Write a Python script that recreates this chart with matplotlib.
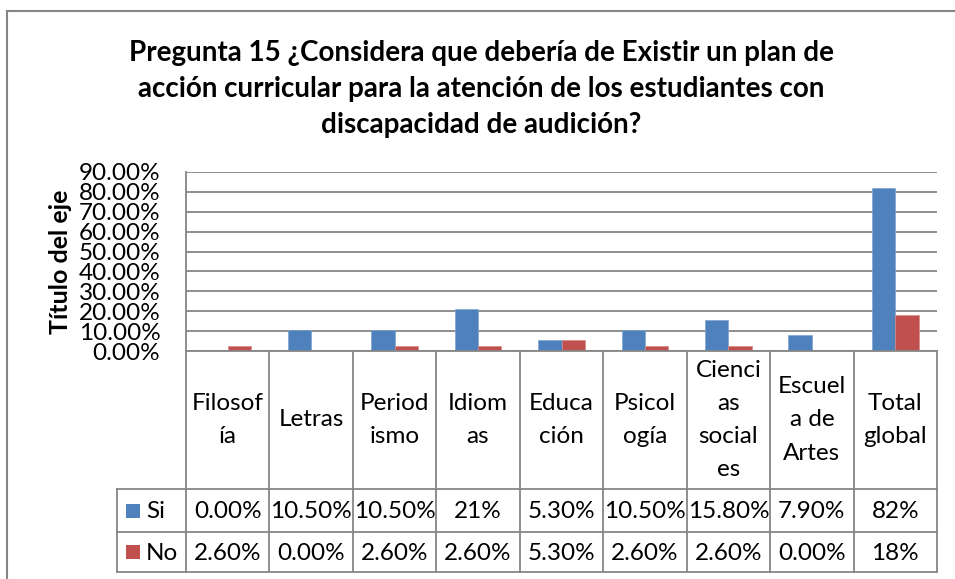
import matplotlib
matplotlib.use("Agg")
import matplotlib.pyplot as plt
from matplotlib.lines import Line2D
from matplotlib.patches import Rectangle
from matplotlib.transforms import blended_transform_factory
import numpy as np

# ---- data ----
categories = ["Filosofía", "Letras", "Periodismo", "Idiomas", "Educación",
              "Psicología", "Ciencias sociales", "Escuela de Artes", "Total global"]
category_labels = ["Filosof\nía", "Letras", "Period\nismo", "Idiom\nas", "Educa\nción",
                   "Psicol\nogía", "Cienci\nas\nsocial\nes", "Escuel\na de\nArtes", "Total\nglobal"]
series_names = ["Si", "No"]
si_values = [0.0, 10.5, 10.5, 21.0, 5.3, 10.5, 15.8, 7.9, 82.0]
no_values = [2.6, 0.0, 2.6, 2.6, 5.3, 2.6, 2.6, 0.0, 18.0]
si_labels = ["0.00%", "10.50%", "10.50%", "21%", "5.30%", "10.50%", "15.80%", "7.90%", "82%"]
no_labels = ["2.60%", "0.00%", "2.60%", "2.60%", "5.30%", "2.60%", "2.60%", "0.00%", "18%"]
y_ticks = [0, 10, 20, 30, 40, 50, 60, 70, 80, 90]

title = ("Pregunta 15 ¿Considera que debería de Existir un plan de\n"
         "acción curricular para la atención de los estudiantes con\n"
         "discapacidad de audición?")

BLUE = "#4F81BD"
RED = "#C0504D"
GRID = "#868686"
FONT = "Lato"

W, H = 955, 579
fig = plt.figure(figsize=(W / 100, H / 100), dpi=100)
fig.patch.set_facecolor("white")

def fx(px):
    return px / W

def fy(py):
    return 1 - py / H

# plot area in pixels
L, R, T, B = 186, 937, 172, 351
ax = fig.add_axes([fx(L), fy(B), fx(R - L), (B - T) / H])

x = np.arange(len(categories))
bw = 0.28
ax.bar(x - bw / 2, si_values, width=bw, color=BLUE, edgecolor="#7FA3D0", linewidth=0.5, zorder=3)
ax.bar(x + bw / 2, no_values, width=bw, color=RED, edgecolor="#D68A88", linewidth=0.5, zorder=3)

ax.set_xlim(-0.5, len(categories) - 0.5)
ax.set_ylim(0, 90)
ax.set_yticks(y_ticks)
ax.set_yticklabels([f"{v:.2f}%" for v in y_ticks], family=FONT, fontsize=17.5)
ax.set_xticks([])
ax.yaxis.grid(True, color=GRID, linewidth=1.3, zorder=0)
ax.tick_params(axis="y", length=0, pad=18.5)
for s in ["top", "right", "bottom"]:
    ax.spines[s].set_visible(False)
ax.spines["left"].set_color(GRID)
ax.spines["left"].set_linewidth(1.3)

# y-axis title
fig.text(fx(60), fy(262), "Título del eje", rotation=90, ha="center", va="center",
         family=FONT, fontsize=18, fontweight="bold")

# title
fig.text(fx(481), fy(89), title, ha="center", va="center", family=FONT,
         fontsize=20, fontweight="bold", linespacing=1.5)

# ---- data table ----
tr = blended_transform_factory(ax.transData, fig.transFigure)
row_cat_bot, row_si_bot, row_no_bot = 489, 532, 572
leg_left_px = 117
unit_px = (R - L) / len(categories)
leg_left = -0.5 - (L - leg_left_px) / unit_px
n = len(categories)

def hline(x0, x1, py):
    fig.add_artist(Line2D([x0, x1], [fy(py), fy(py)], transform=tr, color=GRID,
                          linewidth=1.3, clip_on=False))

def vline(xd, py0, py1):
    fig.add_artist(Line2D([xd, xd], [fy(py0), fy(py1)], transform=tr, color=GRID,
                          linewidth=1.3, clip_on=False))

hline(-0.5, n - 0.5, B)
for py in (row_cat_bot, row_si_bot, row_no_bot):
    hline(leg_left, n - 0.5, py)
for i in range(n + 1):
    vline(i - 0.5, B, row_no_bot)
vline(leg_left, row_cat_bot, row_no_bot)

fs_tab = 17.5
for i in range(n):
    fig.text(i, fy((B + row_cat_bot) / 2), category_labels[i], transform=tr,
             ha="center", va="center", family=FONT, fontsize=fs_tab, linespacing=1.72)
    fig.text(i, fy((row_cat_bot + row_si_bot) / 2 + 1), si_labels[i], transform=tr,
             ha="center", va="center", family=FONT, fontsize=fs_tab)
    fig.text(i, fy((row_si_bot + row_no_bot) / 2 + 1), no_labels[i], transform=tr,
             ha="center", va="center", family=FONT, fontsize=fs_tab)

# legend keys
for name, col, (top, bot) in zip(series_names, [BLUE, RED],
                                 [(row_cat_bot, row_si_bot), (row_si_bot, row_no_bot)]):
    cy = (top + bot) / 2
    fig.add_artist(Rectangle((fx(126), fy(cy + 7)), fx(14), 14 / H,
                             transform=fig.transFigure, facecolor=col, edgecolor="none"))
    fig.text(fx(146), fy(cy + 1), name, ha="left", va="center", family=FONT, fontsize=fs_tab)

# chart border (left and top visible)
fig.add_artist(Line2D([fx(7), fx(7)], [fy(11), 0], transform=fig.transFigure,
                      color=GRID, linewidth=1.5))
fig.add_artist(Line2D([fx(7), 1], [fy(11), fy(11)], transform=fig.transFigure,
                      color=GRID, linewidth=1.5))

fig.savefig("out.png", dpi=100)
